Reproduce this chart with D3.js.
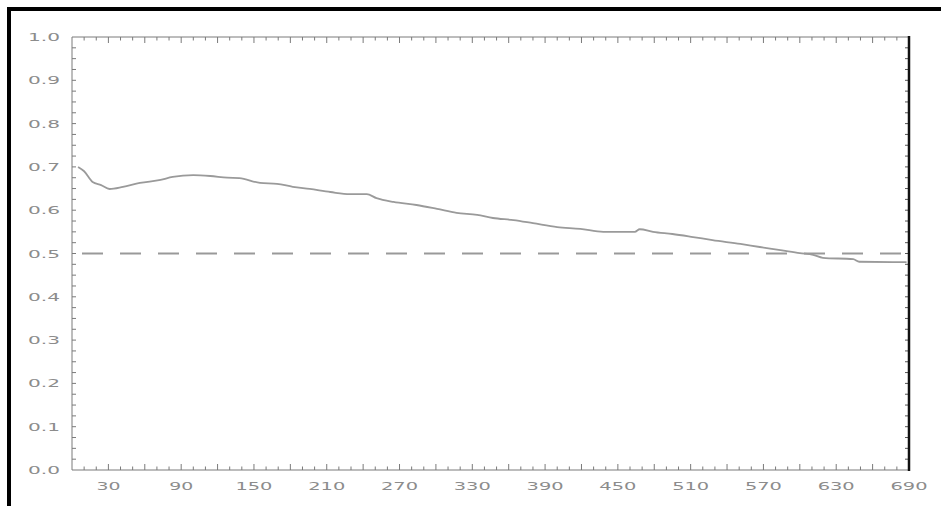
<!DOCTYPE html>
<html>
<head>
<meta charset="utf-8">
<script src="https://d3js.org/d3.v7.min.js"></script>
<style>
  body { margin: 0; background: #fff; }
  text { font-family: "DejaVu Sans", sans-serif; fill: #8c8c8c; }
</style>
</head>
<body>
<svg id="chart" width="941" height="506"></svg>
<script>
// data
var xValues = [5, 10, 17, 24, 31, 42, 56, 73, 83, 100, 114, 128, 138, 155, 169, 182, 196, 213, 229, 243,
    251, 265, 284, 301, 317, 334, 347, 364, 380, 400, 419, 438, 464, 468, 479, 495, 512, 528, 551, 567,
    584, 600, 611, 619, 644, 649, 688];
var yValues = [0.700, 0.690, 0.665, 0.658, 0.649, 0.654, 0.663, 0.670, 0.677, 0.681, 0.679, 0.675, 0.674, 0.663, 0.661, 0.654, 0.649, 0.642, 0.637, 0.637,
    0.628, 0.619, 0.612, 0.603, 0.594, 0.589, 0.582, 0.577, 0.570, 0.561, 0.557, 0.550, 0.550, 0.556, 0.550, 0.545, 0.538, 0.531, 0.522, 0.515,
    0.508, 0.501, 0.497, 0.490, 0.487, 0.481, 0.480];
var refLevel = 0.5;
var xTickLabels = [30, 90, 150, 210, 270, 330, 390, 450, 510, 570, 630, 690];
var yTickLabels = [0.0, 0.1, 0.2, 0.3, 0.4, 0.5, 0.6, 0.7, 0.8, 0.9, 1.0];

var svg = d3.select('#chart');

var plot = {l: 72, r: 909, t: 37, b: 470};

var xScale = d3.scaleLinear().domain([0, 690]).range([plot.l, plot.r]);
var yScale = d3.scaleLinear().domain([0, 1]).range([plot.b, plot.t]);

// frame border, only top and left
svg.append('rect').attr('x', 7).attr('y', 7).attr('width', 934).attr('height', 4).attr('fill', '#000');
svg.append('rect').attr('x', 7).attr('y', 7).attr('width', 4).attr('height', 499).attr('fill', '#000');

var axisG = svg.append('g');

// ticks, all pointing inward
var xMinor = d3.range(10, 690, 10);
var yMinor = d3.range(0.025, 1, 0.025);

axisG.selectAll('.xtb').data(xMinor).join('line')
    .attr('class', 'xtb')
    .attr('x1', d => xScale(d)).attr('x2', d => xScale(d))
    .attr('y1', plot.b).attr('y2', d => plot.b - (d % 30 === 0 ? 6 : 3.5))
    .attr('stroke', '#7a7a7a');
axisG.selectAll('.xtt').data(xMinor).join('line')
    .attr('class', 'xtt')
    .attr('x1', d => xScale(d)).attr('x2', d => xScale(d))
    .attr('y1', plot.t).attr('y2', d => plot.t + (d % 30 === 0 ? 6 : 3.5))
    .attr('stroke', '#7a7a7a');
axisG.selectAll('.ytl').data(yMinor).join('line')
    .attr('class', 'ytl')
    .attr('x1', plot.l).attr('x2', plot.l + 4)
    .attr('y1', d => yScale(d)).attr('y2', d => yScale(d))
    .attr('stroke', '#7a7a7a');
axisG.selectAll('.ytr').data(yMinor).join('line')
    .attr('class', 'ytr')
    .attr('x1', plot.r).attr('x2', plot.r - 4)
    .attr('y1', d => yScale(d)).attr('y2', d => yScale(d))
    .attr('stroke', '#555');

// axis lines
axisG.append('line').attr('x1', plot.l).attr('x2', plot.r).attr('y1', plot.b).attr('y2', plot.b).attr('stroke', '#7a7a7a');
axisG.append('line').attr('x1', plot.l).attr('x2', plot.r).attr('y1', plot.t).attr('y2', plot.t).attr('stroke', '#7a7a7a');
axisG.append('line').attr('x1', plot.l).attr('x2', plot.l).attr('y1', plot.t).attr('y2', plot.b).attr('stroke', '#7a7a7a');
axisG.append('line').attr('x1', plot.r).attr('x2', plot.r).attr('y1', plot.t - 1).attr('y2', plot.b + 1)
    .attr('stroke', '#111').attr('stroke-width', 2.5);

// tick labels
svg.append('g').selectAll('text').data(xTickLabels).join('text')
    .attr('x', d => xScale(d))
    .attr('y', 490)
    .attr('text-anchor', 'middle')
    .attr('font-size', 11)
    .attr('textLength', d => String(d).length * 13 - 2)
    .attr('lengthAdjust', 'spacingAndGlyphs')
    .text(d => d);

svg.append('g').selectAll('text').data(yTickLabels).join('text')
    .attr('x', 60)
    .attr('y', d => yScale(d) + 4)
    .attr('text-anchor', 'end')
    .attr('font-size', 11)
    .attr('textLength', 32)
    .attr('lengthAdjust', 'spacingAndGlyphs')
    .text(d => d3.format('.1f')(d));

// reference line at 0.5
svg.append('line')
    .attr('x1', plot.l).attr('x2', plot.r)
    .attr('y1', yScale(refLevel)).attr('y2', yScale(refLevel))
    .attr('stroke', '#999').attr('stroke-width', 1.8)
    .attr('stroke-dasharray', '21 17').attr('stroke-dashoffset', 28);

// the curve
var line = d3.line()
    .x((d, i) => xScale(xValues[i]))
    .y(d => yScale(d))
    .curve(d3.curveMonotoneX);

svg.append('path')
    .datum(yValues)
    .attr('d', line)
    .attr('fill', 'none')
    .attr('stroke', '#9a9a9a')
    .attr('stroke-width', 1.8);
</script>
</body>
</html>
